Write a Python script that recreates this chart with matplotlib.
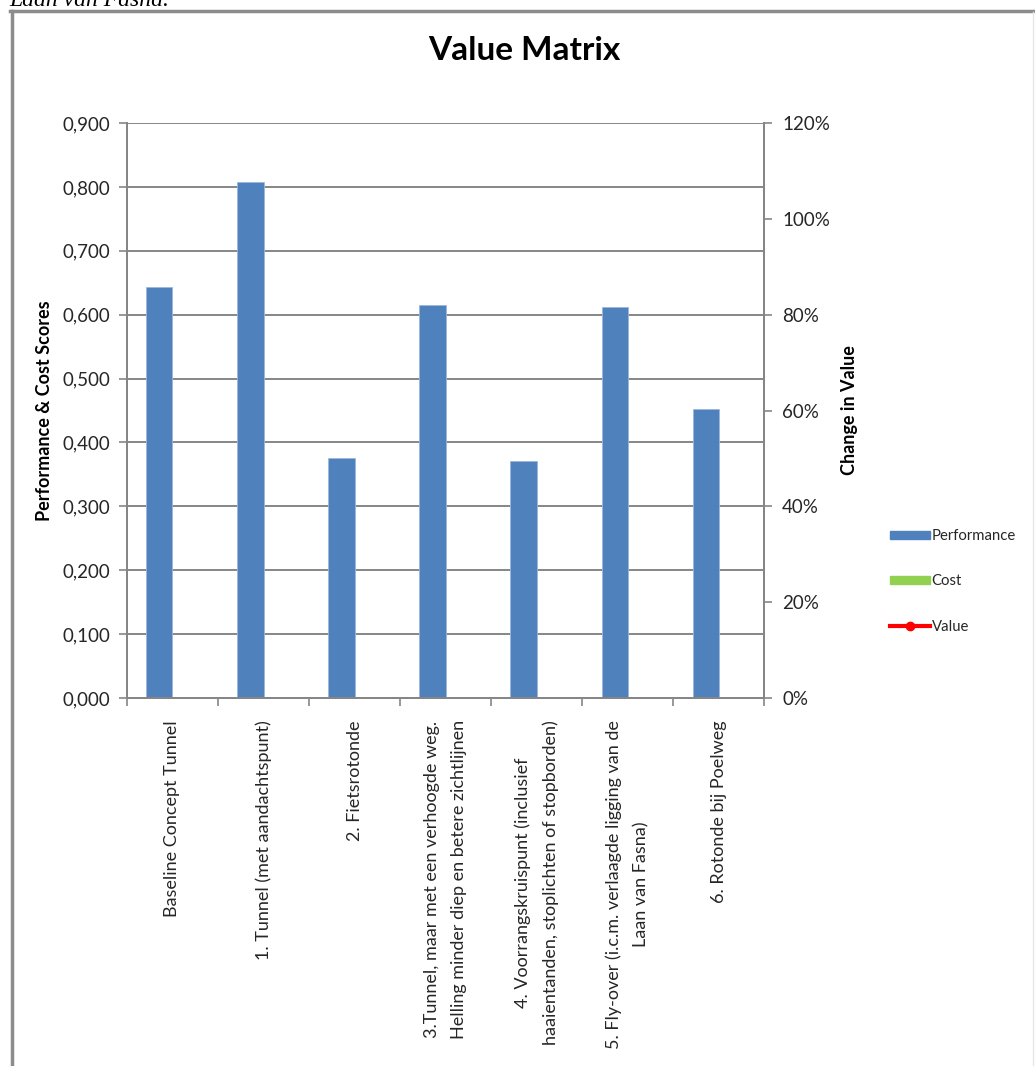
import numpy as np
from matplotlib import pyplot as plt
from matplotlib.lines import Line2D
from matplotlib.patches import Patch
from matplotlib.ticker import FuncFormatter, FixedLocator

# data
categories = [
    "Baseline Concept Tunnel",
    "1. Tunnel (met aandachtspunt)",
    "2. Fietsrotonde",
    "3.Tunnel, maar met een verhoogde weg.\nHelling minder diep en betere zichtlijnen",
    "4. Voorrangskruispunt (inclusief\nhaaientanden, stoplichten of stopborden)",
    "5. Fly-over (i.c.m. verlaagde ligging van de\nLaan van Fasna)",
    "6. Rotonde bij Poelweg",
]
performance = [0.643, 0.808, 0.376, 0.615, 0.371, 0.612, 0.452]
cost = [0, 0, 0, 0, 0, 0, 0]
value_change = [None, None, None, None, None, None, None]

y_ticks = [0.0, 0.1, 0.2, 0.3, 0.4, 0.5, 0.6, 0.7, 0.8, 0.9]
y2_ticks = [0.0, 0.2, 0.4, 0.6, 0.8, 1.0, 1.2]

plt.rcParams['font.family'] = ['Lato', 'DejaVu Sans']
grey = "#868686"
txt = "#262626"

fig = plt.figure(figsize=(10.35, 10.66), dpi=100)
ax = fig.add_axes([0.1227, 0.3452, 0.6155, 0.5394])
ax2 = ax.twinx()

x = np.arange(len(categories))
w = 0.286
ax.bar(x - w / 2, performance, width=w, color="#4F81BD", edgecolor="#9DB7DD", linewidth=0.6, zorder=3)
ax.bar(x + w / 2, cost, width=w, color="#92D050", linewidth=0, zorder=3)
ax2.plot(x, np.array(value_change, dtype=float), color="red", marker="o", lw=3)

ax.set_xlim(-0.5, len(categories) - 0.5)
ax.set_ylim(0, 0.9)
ax2.set_ylim(0, 1.2)

# left axis
ax.set_yticks(y_ticks)
ax.yaxis.set_major_formatter(FuncFormatter(lambda v, p: ("%.3f" % v).replace(".", ",")))
ax.grid(axis="y", color=grey, lw=1.4, zorder=0)
ax.set_axisbelow(True)
ax.tick_params(axis="y", direction="out", length=6, width=1.2, color=grey, labelsize=13.5, labelcolor=txt, pad=6)
ax.set_ylabel("Performance & Cost Scores", fontsize=13, fontweight="bold", color="black")
ax.yaxis.set_label_coords(-0.116, 0.5)

# category axis: ticks between categories, labels at centres
ax.set_xticks(x)
ax.set_xticklabels(categories, rotation=90, fontsize=13, color=txt,
                   multialignment="center", linespacing=1.8)
ax.tick_params(axis="x", which="major", length=0, pad=16)
ax.xaxis.set_minor_locator(FixedLocator(np.arange(-0.5, len(categories), 1.0)))
ax.tick_params(axis="x", which="minor", direction="out", length=6, width=1.2, color=grey)

# right axis
ax2.set_yticks(y2_ticks)
ax2.yaxis.set_major_formatter(FuncFormatter(lambda v, p: "%d%%" % round(v * 100)))
ax2.tick_params(axis="y", direction="out", length=6, width=1.2, color=grey, labelsize=13.5, labelcolor=txt, pad=7)
ax2.set_ylabel("Change in Value", fontsize=13, fontweight="bold", color="black")
ax2.yaxis.set_label_coords(1.121, 0.5)

for a in (ax, ax2):
    a.spines["top"].set_visible(False)
    for s in ("left", "right", "bottom"):
        a.spines[s].set_color(grey)
        a.spines[s].set_linewidth(1.4)

handles = [
    Patch(facecolor="#4F81BD", edgecolor="#4F81BD"),
    Patch(facecolor="#92D050", edgecolor="#92D050"),
    Line2D([], [], color="red", lw=3, marker="o", markersize=6),
]
fig.legend(handles, ["Performance", "Cost", "Value"], loc="upper left",
           bbox_to_anchor=(0.860, 0.5035), frameon=False, fontsize=10.7,
           handlelength=2.7, handleheight=0.4, handletextpad=0.1,
           labelspacing=2.1, borderpad=0, borderaxespad=0, labelcolor=txt)

fig.suptitle("Value Matrix", x=0.507, y=0.966, fontsize=24, fontweight="bold")

# surrounding frame and caption cut off at the top
fig.add_artist(Line2D([0.0112, 0.0112], [0, 0.9895], color="#8c8c8c", lw=2.5, transform=fig.transFigure))
fig.add_artist(Line2D([0.0100, 1.0], [0.9895, 0.9895], color="#8c8c8c", lw=2.5, transform=fig.transFigure))
fig.add_artist(Line2D([0.998, 0.998], [0, 0.989], color="#e6e6e6", lw=1, transform=fig.transFigure))
fig.text(0.009, 0.9945, "Laan van Fasna.", family="Liberation Serif", style="italic", fontsize=17, va="baseline")

plt.savefig("out.png", dpi=100)
